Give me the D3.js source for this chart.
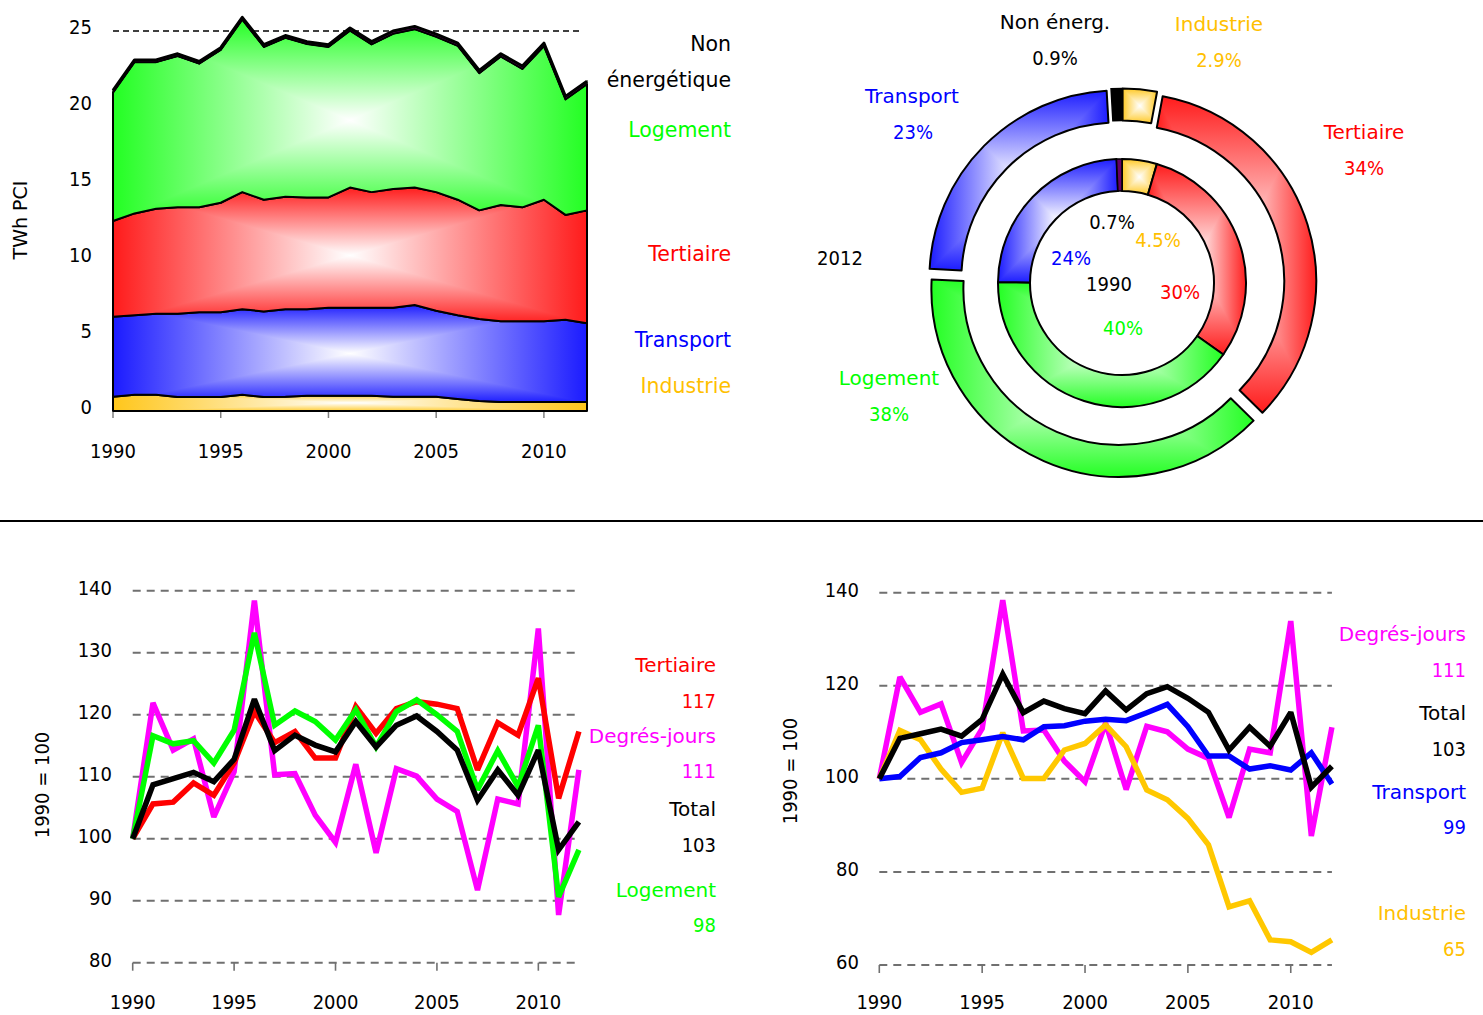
<!DOCTYPE html>
<html><head><meta charset="utf-8">
<script src="https://cdn.jsdelivr.net/npm/d3@7"></script>
<style>body{margin:0;background:#fff} svg{display:block}</style>
</head><body>
<svg id="c" width="1483" height="1015"></svg>
<script>
// ---------- DATA ----------
const years = d3.range(1990, 2013);
// Consommation finale (TWh PCI) par secteur
const industrie      = [0.94,1.07,1.07,0.92,0.92,0.92,1.07,0.92,0.94,1.00,1.00,1.00,1.00,0.94,0.94,0.94,0.79,0.66,0.60,0.60,0.60,0.60,0.60];
const transport      = [5.26,5.23,5.33,5.48,5.58,5.58,5.63,5.63,5.76,5.70,5.80,5.80,5.80,5.86,6.03,5.66,5.51,5.39,5.30,5.30,5.30,5.40,5.17];
const tertiaire      = [6.30,6.70,6.90,7.00,6.90,7.20,7.70,7.35,7.40,7.35,7.25,7.90,7.60,7.80,7.73,7.80,7.60,7.15,7.65,7.50,8.00,6.90,7.43];
const logement       = [8.45,9.95,9.65,9.95,9.45,10.05,11.35,10.05,10.45,10.10,9.90,10.32,9.72,10.22,10.42,10.22,10.12,9.02,9.77,9.10,10.10,7.60,8.30];
const nonEnergetique = [0.15,0.15,0.15,0.15,0.15,0.15,0.15,0.15,0.15,0.15,0.15,0.18,0.18,0.18,0.18,0.18,0.18,0.18,0.18,0.20,0.20,0.20,0.20];
// Indices 1990 = 100
const idxTertiaire   = [100,105.6,105.9,109.0,107.0,112.2,120.5,115.5,117.3,113.0,113.0,121.3,117.0,121.0,122.1,121.7,121.0,111.1,118.7,116.7,125.9,106.5,117.3];
const idxLogement    = [100,116.6,115.3,115.8,112.2,117.5,133.2,118.3,120.6,118.9,115.9,120.8,114.8,120.5,122.4,120.0,117.3,107.9,114.2,108.4,118.3,90.6,98.2];
const idxDegresJours = [100,121.9,114.3,116.1,103.5,110.8,138.4,110.3,110.5,103.8,99.4,112.0,97.7,111.3,110.1,106.4,104.4,91.7,106.4,105.6,133.9,87.7,111.1];
const idxTotal       = [100,108.7,109.7,110.7,109.2,112.8,122.5,114.2,116.7,115.1,114.0,118.9,114.8,118.3,119.8,117.3,114.3,106.2,111.1,107.0,114.3,98.2,102.7];
const idxTransport   = [100,100.5,104.6,105.6,107.8,108.4,109.1,108.4,111.2,111.4,112.4,112.8,112.5,114.2,116.0,111.2,104.9,104.9,102.1,102.8,101.9,105.6,98.9];
const idxIndustrie   = [100,110.4,108.4,102.1,97.1,98.0,109.9,100.1,100.1,106.2,107.6,111.6,106.9,97.6,95.5,91.5,85.8,72.5,73.8,65.4,65.0,62.7,65.4];
// Parts (%) 1990 et 2012
const donutCategories = ["Industrie","Tertiaire","Logement","Transport","Non énerg."];
const share1990 = [4.5, 30, 40, 24, 0.7];
const share2012 = [2.9, 34, 38, 23, 0.9];
// Ticks
const xTicks = [1990,1995,2000,2005,2010];
const yTicksTop = [0,5,10,15,20,25];
const yTicksBL = [80,90,100,110,120,130,140];
const yTicksBR = [60,80,100,120,140];

// ---------- SETUP ----------
const svg = d3.select("#c");
const defs = svg.append("defs");
const FT = "DejaVu Sans, Verdana, sans-serif";
const FN = "DejaVu Sans Condensed, DejaVu Sans, sans-serif";
const C = {ind:"#ffc61a", tra:"#1a1aff", ter:"#ff1a1a", log:"#22ff22", non:"#660066"};
const TXT = {ind:"#ffc000", tra:"#0000ff", ter:"#ff0000", log:"#00ff00", dj:"#ff00ff", tot:"#000"};

let gid = 0;
function rectGrad(parent, d, color, bb) {
  const id = "rg" + (gid++);
  defs.append("clipPath").attr("id", id + "c").append("path").attr("d", d);
  const g = parent.append("g").attr("clip-path", `url(#${id}c)`);
  const x = bb.x - 1, y = bb.y - 1, w = bb.w + 2, h = bb.h + 2;
  const cx = x + w / 2, cy = y + h / 2;
  const tris = [
    {p:[[x,y],[x,y+h],[cx,cy]], g:[x,cy,cx,cy]},
    {p:[[x+w,y],[x+w,y+h],[cx,cy]], g:[x+w,cy,cx,cy]},
    {p:[[x,y],[x+w,y],[cx,cy]], g:[cx,y,cx,cy]},
    {p:[[x,y+h],[x+w,y+h],[cx,cy]], g:[cx,y+h,cx,cy]}];
  tris.forEach((t, i) => {
    const lg = defs.append("linearGradient").attr("id", id + "l" + i)
      .attr("gradientUnits", "userSpaceOnUse")
      .attr("x1", t.g[0]).attr("y1", t.g[1]).attr("x2", t.g[2]).attr("y2", t.g[3]);
    lg.append("stop").attr("offset", 0).attr("stop-color", color);
    lg.append("stop").attr("offset", 1).attr("stop-color", "#ffffff");
    g.append("polygon").attr("points", t.p.map(q => q.join(",")).join(" "))
      .attr("fill", `url(#${id}l${i})`).attr("shape-rendering", "crispEdges");
  });
  parent.append("path").attr("d", d).attr("fill", "none").attr("stroke", "#000").attr("stroke-width", 2)
    .attr("stroke-linejoin", "round");
}

// ---------- TOP LEFT: stacked area ----------
(function(){
  const x = d3.scaleLinear().domain([1990, 2012]).range([113, 587]);
  const y = d3.scaleLinear().domain([0, 25]).range([411, 31]);
  const g = svg.append("g");
  g.selectAll("line.grid").data(yTicksTop.filter(v => v > 0)).join("line")
    .attr("x1", x(1990)).attr("x2", 582).attr("y1", d => y(d)).attr("y2", d => y(d))
    .attr("stroke", "#000").attr("stroke-width", 1.3).attr("stroke-dasharray", "6,4");
  const rows = years.map((yr, i) => ({yr, ind:industrie[i], tra:transport[i], ter:tertiaire[i], log:logement[i], non:nonEnergetique[i]}));
  const keys = ["ind","tra","ter","log","non"];
  const series = d3.stack().keys(keys)(rows);
  const area = d3.area().x(d => x(d.data.yr)).y0(d => y(d[0])).y1(d => y(d[1]));
  series.forEach(s => {
    const d = area(s);
    if (s.key === "non") {
      g.append("path").attr("d", d).attr("fill", C.non).attr("stroke", "#000").attr("stroke-width", 1.2);
      return;
    }
    const top = d3.min(s, p => y(p[1])), bot = d3.max(s, p => y(p[0]));
    rectGrad(g, d, C[s.key], {x: x(1990), y: top, w: x(2012) - x(1990), h: bot - top});
  });
  const last = series[series.length - 1];
  g.append("path").attr("d", d3.line().x(d => x(d.data.yr)).y(d => y(d[1]))(last))
    .attr("fill", "none").attr("stroke", "#000").attr("stroke-width", 3).attr("stroke-linejoin", "round");
  g.append("path").attr("d", d3.line().x(d => x(d.data.yr)).y(d => y(d[0]))(last))
    .attr("fill", "none").attr("stroke", "#000").attr("stroke-width", 1.5);
  g.append("line").attr("x1", x(1990)).attr("x2", x(2012)).attr("y1", y(0)).attr("y2", y(0)).attr("stroke", "#000").attr("stroke-width", 2);
  g.selectAll("line.tk").data(xTicks).join("line").attr("x1", d => x(d)).attr("x2", d => x(d))
    .attr("y1", y(0) + 1).attr("y2", y(0) + 7).attr("stroke", "#808080").attr("stroke-width", 1.5);
  g.selectAll("text.xl").data(xTicks).join("text").attr("x", d => x(d)).attr("y", 458)
    .attr("text-anchor", "middle").attr("font-family", FN).attr("font-size", 20).text(d => d);
  g.selectAll("text.yl").data(yTicksTop).join("text").attr("x", 92).attr("y", d => y(d) - 4).attr("dy", "0.36em")
    .attr("text-anchor", "end").attr("font-family", FN).attr("font-size", 20).text(d => d);
  g.append("text").attr("transform", "translate(27,220) rotate(-90)").attr("text-anchor", "middle")
    .attr("font-family", FT).attr("font-size", 19).text("TWh PCI");
  const leg = [["Non", 44, "#000"], ["énergétique", 80, "#000"], ["Logement", 130, TXT.log],
               ["Tertiaire", 254, TXT.ter], ["Transport", 340, TXT.tra], ["Industrie", 386, TXT.ind]];
  g.selectAll("text.lg").data(leg).join("text").attr("x", 731).attr("y", d => d[1]).attr("dy", "0.36em")
    .attr("text-anchor", "end").attr("font-family", FT).attr("font-size", 20.5).attr("fill", d => d[2]).text(d => d[0]);
})();

// ---------- TOP RIGHT: donut ----------
(function(){
  const cx = 1122, cy = 283;
  const g = svg.append("g").attr("transform", `translate(${cx},${cy})`);
  const pie = d3.pie().sort(null).value(d => d);
  const fills1990 = [C.ind, C.ter, C.log, C.tra, C.non];
  const fills2012 = [C.ind, C.ter, C.log, C.tra, "#000"];
  function ring(vals, r0, r1, off, fills) {
    const arcs = pie(vals);
    const arc = d3.arc().innerRadius(r0).outerRadius(r1);
    arcs.forEach((a, i) => {
      const mid = (a.startAngle + a.endAngle) / 2;
      const gg = g.append("g").attr("transform", `translate(${off * Math.sin(mid)},${-off * Math.cos(mid)})`);
      const pts = [];
      for (let k = 0; k <= 60; k++) {
        const t = a.startAngle + (a.endAngle - a.startAngle) * k / 60;
        pts.push([r0 * Math.sin(t), -r0 * Math.cos(t)], [r1 * Math.sin(t), -r1 * Math.cos(t)]);
      }
      const xs = pts.map(p => p[0]), ys = pts.map(p => p[1]);
      const bb = {x: d3.min(xs), y: d3.min(ys), w: d3.max(xs) - d3.min(xs), h: d3.max(ys) - d3.min(ys)};
      if (i === 4) {
        gg.append("path").attr("d", arc(a)).attr("fill", fills[i]).attr("stroke", "#000").attr("stroke-width", 1.5);
      } else {
        rectGrad(gg, arc(a), fills[i], bb);
      }
    });
  }
  ring(share1990, 92, 124, 0, fills1990);
  ring(share2012, 156, 188, 6.5, fills2012);

  const t = svg.append("g");
  const lab = [
    ["Non énerg.", 1055, 22, "#000", FT], [share2012[4] + "%", 1055, 58, "#000", FN],
    ["Industrie", 1219, 24, TXT.ind, FT], [share2012[0] + "%", 1219, 60, TXT.ind, FN],
    ["Transport", 912, 96, TXT.tra, FT], [share2012[3] + "%", 913, 132, TXT.tra, FN],
    ["Tertiaire", 1364, 132, TXT.ter, FT], [share2012[1] + "%", 1364, 168, TXT.ter, FN],
    ["2012", 840, 258, "#000", FN],
    ["Logement", 889, 378, TXT.log, FT], [share2012[2] + "%", 889, 414, TXT.log, FN],
    [share1990[4] + "%", 1112, 222, "#000", FN], [share1990[0] + "%", 1158, 240, TXT.ind, FN],
    [share1990[3] + "%", 1071, 258, TXT.tra, FN], ["1990", 1109, 284, "#000", FN],
    [share1990[1] + "%", 1180, 292, TXT.ter, FN], [share1990[2] + "%", 1123, 328, TXT.log, FN]];
  t.selectAll("text").data(lab).join("text").attr("x", d => d[1]).attr("y", d => d[2]).attr("dy", "0.36em")
    .attr("text-anchor", "middle").attr("font-family", d => d[4]).attr("font-size", 20).attr("fill", d => d[3]).text(d => d[0]);
})();

// separator
svg.append("line").attr("x1", 0).attr("x2", 1483).attr("y1", 521).attr("y2", 521).attr("stroke", "#000").attr("stroke-width", 2);

// ---------- line charts ----------
function lineChart(opt) {
  const x = d3.scaleLinear().domain([1990, 2012]).range(opt.xr);
  const y = d3.scaleLinear().domain(opt.yd).range(opt.yr);
  const g = svg.append("g");
  g.selectAll("line.grid").data(opt.yt).join("line")
    .attr("x1", x(1990)).attr("x2", x(2012)).attr("y1", d => y(d)).attr("y2", d => y(d))
    .attr("stroke", "#707070").attr("stroke-width", 2).attr("stroke-dasharray", "8,6");
  g.selectAll("line.tk").data(xTicks).join("line").attr("x1", d => x(d)).attr("x2", d => x(d))
    .attr("y1", y(opt.yd[0])).attr("y2", y(opt.yd[0]) + 8).attr("stroke", "#707070").attr("stroke-width", 1.6);
  g.selectAll("text.xl").data(xTicks).join("text").attr("x", d => x(d)).attr("y", opt.xly)
    .attr("text-anchor", "middle").attr("font-family", FN).attr("font-size", 20).text(d => d);
  g.selectAll("text.yl").data(opt.yt).join("text").attr("x", opt.ylx).attr("y", d => y(d) - 3).attr("dy", "0.36em")
    .attr("text-anchor", "end").attr("font-family", FN).attr("font-size", 20).text(d => d);
  g.append("text").attr("transform", `translate(${opt.tx},${opt.ty}) rotate(-90)`).attr("text-anchor", "middle")
    .attr("font-family", FN).attr("font-size", 20).text("1990 = 100");
  const line = d3.line().x((d, i) => x(years[i])).y(d => y(d));
  opt.series.forEach(s => {
    g.append("path").attr("d", line(s.v)).attr("fill", "none").attr("stroke", s.c).attr("stroke-width", 5.5)
      .attr("stroke-linejoin", "miter").attr("stroke-miterlimit", 2.5);
  });
  g.selectAll("text.lg").data(opt.legend).join("text").attr("x", opt.lx).attr("y", d => d[1]).attr("dy", "0.36em")
    .attr("text-anchor", "end").attr("font-family", d => d[3]).attr("font-size", 20).attr("fill", d => d[2]).text(d => d[0]);
}
const last = a => Math.round(a[a.length - 1]);
lineChart({
  xr: [132.7, 578.9], yd: [80, 140], yr: [962.7, 590.7], yt: yTicksBL, xly: 1009, ylx: 112, tx: 49, ty: 785, lx: 716,
  series: [{v: idxDegresJours, c: "#ff00ff"}, {v: idxTertiaire, c: "#ff0000"}, {v: idxLogement, c: "#00ff00"}, {v: idxTotal, c: "#000"}],
  legend: [["Tertiaire", 665, TXT.ter, FT], [last(idxTertiaire), 701, TXT.ter, FN],
           ["Degrés-jours", 736, TXT.dj, FT], [last(idxDegresJours), 771, TXT.dj, FN],
           ["Total", 809, "#000", FT], [last(idxTotal), 845, "#000", FN],
           ["Logement", 890, TXT.log, FT], [last(idxLogement), 925, TXT.log, FN]]
});
lineChart({
  xr: [879.3, 1331.9], yd: [60, 140], yr: [965, 592.7], yt: yTicksBR, xly: 1009, ylx: 859, tx: 797, ty: 771, lx: 1466,
  series: [{v: idxDegresJours, c: "#ff00ff"}, {v: idxIndustrie, c: "#ffc800"}, {v: idxTransport, c: "#0000ff"}, {v: idxTotal, c: "#000"}],
  legend: [["Degrés-jours", 634, TXT.dj, FT], [last(idxDegresJours), 670, TXT.dj, FN],
           ["Total", 713, "#000", FT], [last(idxTotal), 749, "#000", FN],
           ["Transport", 792, TXT.tra, FT], [last(idxTransport), 827, TXT.tra, FN],
           ["Industrie", 913, TXT.ind, FT], [last(idxIndustrie), 949, TXT.ind, FN]]
});
</script>
</body></html>
